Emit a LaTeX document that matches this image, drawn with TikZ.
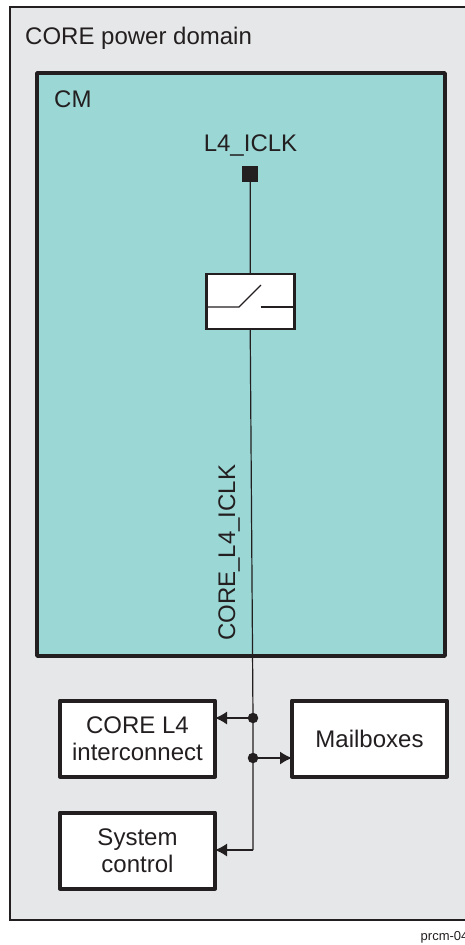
\documentclass[tikz,border=0pt]{standalone}
\usepackage{fontspec}
\setmainfont{Liberation Sans}
\usetikzlibrary{arrows.meta}
\definecolor{ink}{HTML}{231F20}
\definecolor{domain}{HTML}{E6E7E8}
\definecolor{teal}{HTML}{9BD7D5}
\tikzset{
 x=1pt,y=-1pt,
 lbl/.style={text=ink,font=\fontsize{24}{27}\selectfont,inner sep=0pt,align=center},
 block/.style={draw=ink,fill=white,line width=4pt,line join=round,minimum width=155pt,minimum height=76pt,inner sep=0pt,outer sep=0pt,anchor=north west,text=ink,font=\fontsize{24}{27}\selectfont,align=center},
 wire/.style={draw=ink,line width=1.2pt},
 arr/.style={wire,-{Latex[length=12pt,width=13pt,sharp]}},
 dot/.style={circle,fill=ink,minimum size=10.5pt,inner sep=0pt},
}
\begin{document}
\begin{tikzpicture}
\useasboundingbox (0,0) rectangle (465,945);
\begin{scope}
\clip (0,0) rectangle (465,945);
\draw[draw=ink,fill=domain,line width=2pt] (9.5,7) rectangle (480,919.5);
\end{scope}
\draw[draw=ink,fill=teal,line width=3.6pt,line join=round] (37,73) rectangle (445,656);
\node[lbl,anchor=base west] (title) at (25,44) {CORE power domain};
\node[lbl,anchor=base west] (cm) at (54,107) {CM};
\node[lbl,anchor=base] (clk) at (250.5,151) {L4\_ICLK};
\node[fill=ink,minimum size=16pt,inner sep=0pt] (pad) at (250.3,174) {};
\node[draw=ink,fill=white,line width=2.8pt,minimum width=88pt,minimum height=55pt,inner sep=0pt,outer sep=0pt] (sw) at (250.2,301.5) {};
\coordinate (swa) at (239,307);
\coordinate (swb) at (261,285);
\coordinate (swc) at (260.5,307);
\draw[wire] (sw.west |- swa) -- (swa) -- (swb);
\draw[wire] (swc) -- (sw.east |- swc);
\draw[wire] (pad.south) -- (sw.north);
\node[block] (l4) at (60,700.5) {CORE L4\\interconnect};
\node[block] (mb) at (292,700.5) {Mailboxes};
\node[block] (sc) at (60,812.5) {System\\control};
\coordinate (corner) at (253,850);
\coordinate (t1) at (253,718);
\coordinate (t2) at (253,758);
\draw[wire] (sw.south) -- (t1) -- (corner);
\node[dot] (d1) at (t1) {};
\node[dot] (d2) at (t2) {};
\draw[arr] (d1.center) -- (l4.east |- d1);
\draw[arr] (d2.center) -- (mb.west |- d2);
\draw[arr] (corner) -- (sc.east |- corner);
\node[lbl,rotate=90,anchor=base west] (core) at (235,641) {CORE\_L4\_ICLK};
\node[text=ink,font=\fontsize{13}{14}\selectfont,inner sep=0pt,anchor=base west] (fig) at (420.5,940) {prcm-04};
\end{tikzpicture}
\end{document}
